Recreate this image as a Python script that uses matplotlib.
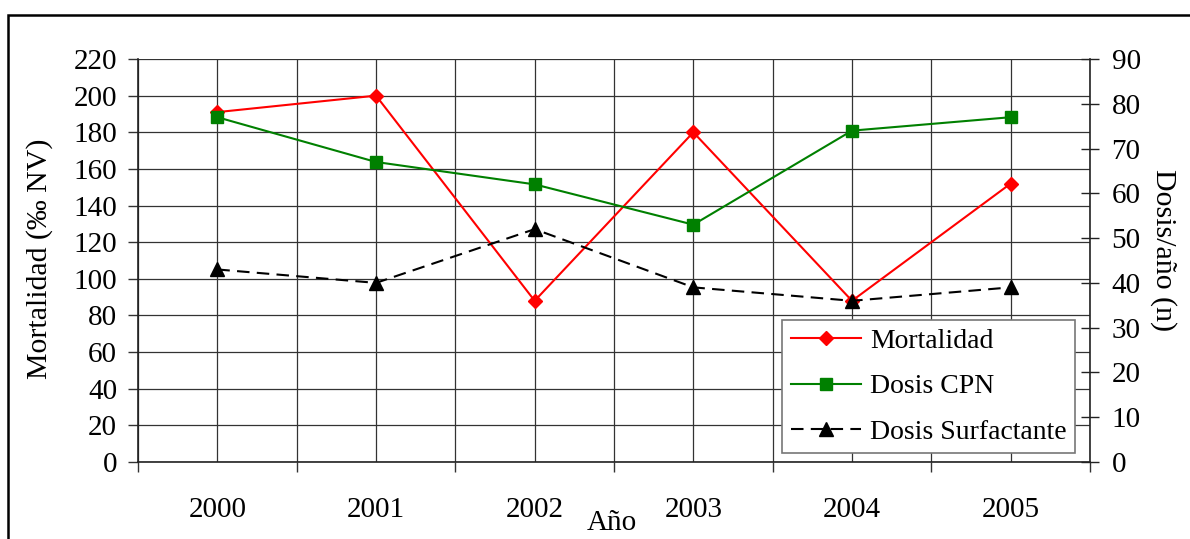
import matplotlib.pyplot as plt
from matplotlib.patches import Rectangle
import numpy as np

plt.rcParams['font.family'] = ['Liberation Serif', 'DejaVu Serif']

# data
years = ['2000', '2001', '2002', '2003', '2004', '2005']
mortalidad = [191, 200, 88, 180, 88, 152]        # left axis (‰ NV)
dosis_cpn = [77, 67, 62, 53, 74, 77]             # right axis (n)
dosis_surfactante = [43, 40, 52, 39, 36, 39]     # right axis (n)

fig = plt.figure(figsize=(11.9, 5.39), dpi=100)
ax = fig.add_axes([138 / 1190, 1 - 462 / 539, 952 / 1190, 403 / 539])
ax2 = ax.twinx()

x = np.arange(len(years))

# left axis
ax.set_xlim(-0.5, len(years) - 0.5)
ax.set_ylim(0, 220)
ax.set_yticks(np.arange(0, 221, 20))
ax.set_xticks(x)
ax.set_xticklabels(years)
ax.set_xticks(np.arange(-0.5, len(years), 1.0), minor=True)
ax.tick_params(axis='x', which='major', length=0, pad=25, labelsize=21)
ax.tick_params(axis='x', which='minor', length=7, width=1, direction='out', color='#333333')
ax.tick_params(axis='y', length=7, width=1, direction='out', pad=8, labelsize=21, color='#333333')
ax.grid(True, which='major', axis='both', color='#333333', linewidth=0.9)
ax.grid(True, which='minor', axis='x', color='#333333', linewidth=0.9)
ax.set_axisbelow(True)
ax.spines['top'].set_visible(False)
ax.spines['right'].set_visible(False)
for s in ['left', 'bottom']:
    ax.spines[s].set_color('#222222')
    ax.spines[s].set_linewidth(1.2)

# right axis
ax2.set_ylim(0, 90)
ax2.set_yticks(np.arange(0, 91, 10))
ax2.tick_params(axis='y', length=13, width=1, direction='inout', pad=9, labelsize=21, color='#222222')
ax2.spines['right'].set_color('#222222')
ax2.spines['right'].set_linewidth(1.2)
for s in ['top', 'left', 'bottom']:
    ax2.spines[s].set_visible(False)

l1, = ax.plot(x, mortalidad, color='#ff0000', linewidth=1.5, marker='D', markersize=7,
              label='Mortalidad', zorder=5)
l2, = ax2.plot(x, dosis_cpn, color='#008000', linewidth=1.5, marker='s', markersize=8,
               label='Dosis CPN', zorder=5)
l3, = ax2.plot(x, dosis_surfactante, color='black', linewidth=1.5, marker='^', markersize=9.5,
               dashes=(6, 3.5), label='Dosis Surfactante', zorder=5)

leg = ax2.legend(handles=[l1, l2, l3], loc='lower right', bbox_to_anchor=(0.984, 0.022),
                 fontsize=20, frameon=True, fancybox=False, framealpha=1,
                 edgecolor='#777777', handlelength=2.55, handletextpad=0.3,
                 labelspacing=0.72, borderpad=0.3, borderaxespad=0)
leg.get_frame().set_linewidth(1.2)

# axis titles
fig.text(40 / 1190, 1 - 259 / 539, 'Mortalidad (‰ NV)', rotation=90,
         ha='center', va='center', fontsize=21.5)
fig.text(1163 / 1190, 1 - 250 / 539, 'Dosis/año (n)', rotation=270,
         ha='center', va='center', fontsize=21.5)
fig.text(612 / 1190, 1 - 530 / 539, 'Año', ha='center', va='baseline', fontsize=21)

# outer border of the chart area
fig.patches.append(Rectangle((8 / 1190, -0.2), 1.5, 1 - 15 / 539 + 0.2,
                             transform=fig.transFigure, fill=False,
                             edgecolor='black', linewidth=1.8))

fig.savefig('out.png', dpi=100)
